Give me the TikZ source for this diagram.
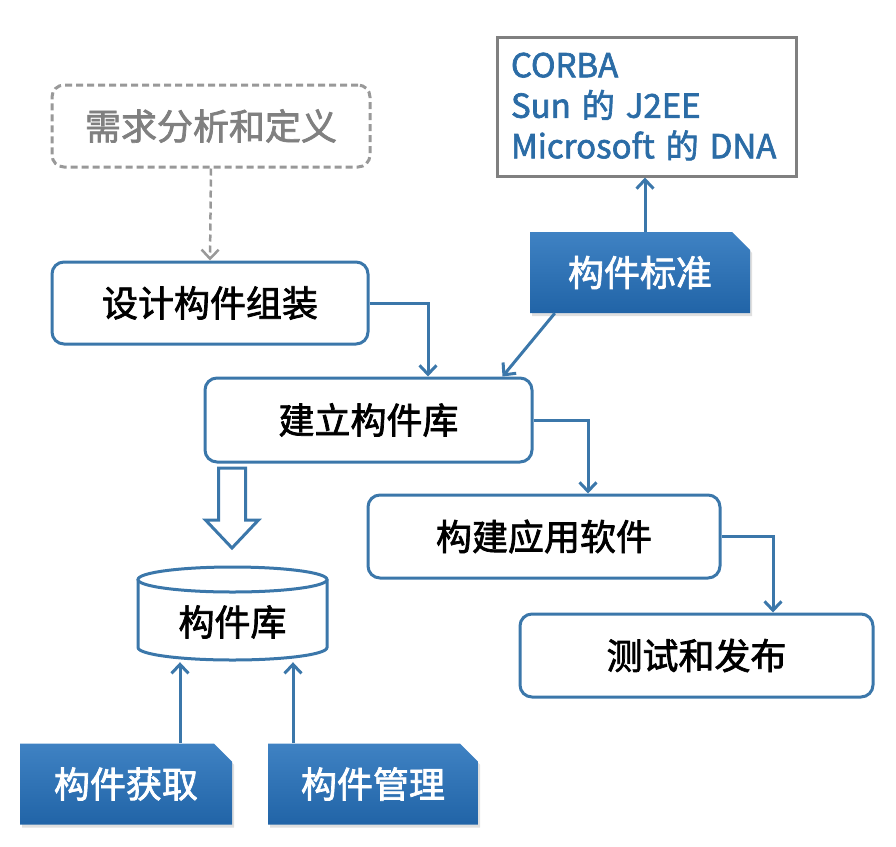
\documentclass[tikz,border=0pt]{standalone}
\usepackage{fontspec}
\setmainfont{Noto Sans CJK SC}[FakeBold=2]
\usetikzlibrary{arrows.meta,shapes.misc,shadows}

\definecolor{lineblue}{HTML}{3B77AA}
\definecolor{fillblue}{HTML}{2164A7}
\definecolor{fillbluetop}{HTML}{3F82C3}
\definecolor{textblue}{HTML}{2B6CA6}
\definecolor{dashgray}{HTML}{999999}

\begin{document}
\begin{tikzpicture}[x=1pt,y=-1pt,
	font=\fontsize{36}{40.5}\selectfont,
	>={Straight Barb[length=9pt,width=17pt]},
	flowbox/.style={draw=lineblue,line width=3pt,rounded corners=12pt,fill=white,inner sep=0pt,minimum height=82pt},
	bluebox/.style={chamfered rectangle,chamfered rectangle corners=north east,chamfered rectangle xsep=9pt,chamfered rectangle ysep=9pt,
		top color=fillbluetop,bottom color=fillblue,draw=none,text=white,inner sep=0pt,minimum width=#1,minimum height=81pt,
		drop shadow={opacity=0.25,shadow xshift=2pt,shadow yshift=-3pt}},
	link/.style={draw=lineblue,line width=3pt,->},
]
	\useasboundingbox (0,0) rectangle (896,846);

	\node[flowbox,draw=dashgray,dashed,dash pattern=on 7pt off 4pt,text=gray,minimum width=318pt] (req) at (211,126) {需求分析和定义};
	\node[flowbox,minimum width=316pt] (design) at (210,303) {设计构件组装};
	\node[flowbox,minimum width=327pt,minimum height=84pt] (build) at (368.5,420) {建立构件库};
	\node[flowbox,minimum width=352pt,minimum height=83pt] (app) at (544,536.5) {构建应用软件};
	\node[flowbox,minimum width=353pt,minimum height=83pt] (test) at (696.5,655.5) {测试和发布};

	\node[draw=gray,line width=3pt,fill=white,text=textblue,align=left,text width=271pt,inner sep=0pt,
		font=\fontsize{33}{40.5}\selectfont,minimum width=299pt,minimum height=139pt] (stdlist) at (646.5,106.5) {CORBA\\Sun 的 J2EE\\Microsoft 的 DNA};
	\node[bluebox=220pt] (std) at (640,272.5) {构件标准};

	\node[bluebox=212pt] (get) at (126,784) {构件获取};
	\node[bluebox=210pt] (mgr) at (373,784) {构件管理};

	% cylinder
	\node[minimum width=189pt,minimum height=93pt,inner sep=0pt] (lib) at (232.5,613.5) {};
	\draw[draw=lineblue,line width=3pt,fill=white] (138,579.5) -- (138,647.5) arc[start angle=180,end angle=360,x radius=94.5pt,y radius=12.5pt] -- (327,579.5);
	\draw[draw=lineblue,line width=3pt,fill=white] (232.5,579.5) ellipse[x radius=94.5pt,y radius=12.5pt];
	\node at (232.5,622) {构件库};

	\draw[link,draw=dashgray,line width=2.5pt,dashed,dash pattern=on 7pt off 4pt] (req.south) -- (design.north);
	\draw[link] (design.east) -| ([xshift=59.5pt]build.north);
	\draw[link] (build.east) -| ([xshift=44pt]app.north);
	\draw[link] (app.east) -| ([xshift=76.5pt]test.north);
	\draw[link] ([xshift=5pt]std.north) -- ([xshift=5pt]std.north |- stdlist.south);
	\draw[link] ([xshift=25pt]std.south west) -- ([xshift=-31pt]build.north east);
	\draw[link] ([xshift=-52.5pt]lib.south |- get.north) -- ([xshift=-52.5pt,yshift=-2pt]lib.south);
	\draw[link] ([xshift=60.5pt]lib.south |- mgr.north) -- ([xshift=60.5pt,yshift=-2pt]lib.south);

	% hollow arrow
	\draw[draw=lineblue,line width=3pt,fill=white] (218.5,468) -- (245.5,468) -- (245.5,520) -- (258.5,520) -- (232,548) -- (205.5,520) -- (218.5,520) -- cycle;
\end{tikzpicture}
\end{document}
